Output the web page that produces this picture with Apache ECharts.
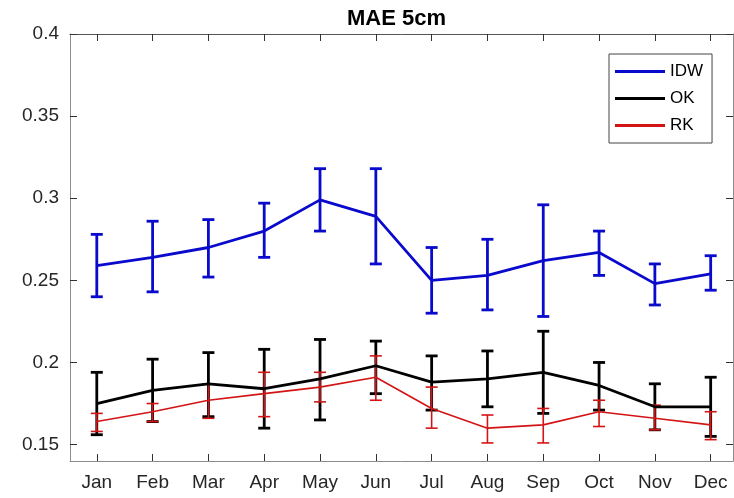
<!DOCTYPE html>
<html>
<head>
<meta charset="utf-8">
<script src="https://cdn.jsdelivr.net/npm/echarts@6/dist/echarts.min.js"></script>
<style>html,body{margin:0;padding:0;background:#fff;}#c{width:734px;height:498px;}</style>
</head>
<body>
<div id="c"></div>
<script>
const months = ['Jan','Feb','Mar','Apr','May','Jun','Jul','Aug','Sep','Oct','Nov','Dec'];
const yTicks = [0.15, 0.2, 0.25, 0.3, 0.35, 0.4];
const idwMean = [0.259,0.264,0.270,0.280,0.299,0.289,0.250,0.253,0.262,0.267,0.248,0.254];
const idwLow  = [0.240,0.243,0.252,0.264,0.280,0.260,0.230,0.232,0.228,0.253,0.235,0.244];
const idwHigh = [0.278,0.286,0.287,0.297,0.318,0.318,0.270,0.275,0.296,0.280,0.260,0.265];
const okMean  = [0.175,0.183,0.187,0.184,0.190,0.198,0.188,0.190,0.194,0.186,0.173,0.173];
const okLow   = [0.156,0.164,0.167,0.160,0.165,0.181,0.171,0.173,0.169,0.171,0.159,0.155];
const okHigh  = [0.194,0.202,0.206,0.208,0.214,0.213,0.204,0.207,0.219,0.200,0.187,0.191];
const rkMean  = [0.164,0.170,0.177,0.181,0.185,0.191,0.172,0.160,0.162,0.170,0.166,0.162];
const rkLow   = [0.158,0.164,0.166,0.167,0.176,0.177,0.160,0.151,0.151,0.161,0.159,0.153];
const rkHigh  = [0.169,0.175,0.187,0.194,0.194,0.204,0.185,0.168,0.172,0.177,0.174,0.170];

const xPos = months.map((m, i) => i + 1);
const FONT = 'Liberation Sans, Arial, sans-serif';
const colors = { IDW: '#0a0acc', OK: '#000000', RK: '#d41414' };
const widths = { IDW: 2.8, OK: 2.8, RK: 1.6 };

function lineSeries(name, mean) {
  return {
    name: name, type: 'line', xAxisIndex: 0, yAxisIndex: 0,
    data: mean.map((v, i) => [xPos[i], v]),
    symbol: 'none', z: 3,
    lineStyle: { color: colors[name], width: widths[name] },
    itemStyle: { color: colors[name] }
  };
}
function errSeries(name, low, high) {
  return {
    name: name + ' err', type: 'custom', xAxisIndex: 0, yAxisIndex: 0, z: 3,
    data: low.map((v, i) => [xPos[i], v, high[i]]),
    encode: { x: 0, y: [1, 2] },
    renderItem: function (params, api) {
      const x = api.value(0);
      const lo = api.coord([x, api.value(1)]);
      const hi = api.coord([x, api.value(2)]);
      const hw = 6;
      const st = { stroke: colors[name], lineWidth: widths[name] };
      return {
        type: 'group',
        children: [
          { type: 'line', shape: { x1: lo[0], y1: lo[1], x2: hi[0], y2: hi[1] }, style: st },
          { type: 'line', shape: { x1: lo[0] - hw, y1: lo[1], x2: lo[0] + hw, y2: lo[1] }, style: st },
          { type: 'line', shape: { x1: hi[0] - hw, y1: hi[1], x2: hi[0] + hw, y2: hi[1] }, style: st }
        ]
      };
    }
  };
}

const chart = echarts.init(document.getElementById('c'), null, { renderer: 'canvas' });
const axisLineStyle = { color: '#8c8c8c', width: 1 };
const tickStyle = { color: '#333', width: 1 };
chart.setOption({
  animation: false,
  backgroundColor: '#fff',
  title: {
    text: 'MAE 5cm', left: 347, top: 8, padding: 0,
    textStyle: { fontFamily: FONT, fontSize: 22, fontWeight: 'bold', color: '#000' }
  },
  grid: { left: 70, right: 1, top: 34, bottom: 37, containLabel: false },
  legend: {
    orient: 'vertical', left: 609, top: 54,
    padding: [9, 9, 9, 6], itemGap: 10, itemWidth: 50, itemHeight: 3,
    backgroundColor: '#fff', borderColor: '#444', borderWidth: 1, borderRadius: 0,
    textStyle: { fontFamily: FONT, fontSize: 17, color: '#000' },
    data: [
      { name: 'IDW', icon: 'rect', itemStyle: { color: colors.IDW } },
      { name: 'OK', icon: 'rect', itemStyle: { color: colors.OK } },
      { name: 'RK', icon: 'rect', itemStyle: { color: colors.RK } }
    ]
  },
  xAxis: [
    {
      type: 'value', position: 'bottom', min: 0.52, max: 12.4,
      axisLine: { show: true, lineStyle: axisLineStyle },
      axisTick: { show: true, inside: true, length: 7, customValues: xPos, lineStyle: tickStyle },
      axisLabel: {
        customValues: xPos, margin: 12,
        formatter: v => months[Math.round(v) - 1] || '',
        fontFamily: FONT, fontSize: 19, color: '#262626'
      },
      splitLine: { show: false }
    },
    {
      type: 'value', position: 'top', min: 0.52, max: 12.4,
      axisLine: { show: true, lineStyle: { color: '#555', width: 1 } },
      axisTick: { show: true, inside: true, length: 7, customValues: xPos, lineStyle: tickStyle },
      axisLabel: { show: false },
      splitLine: { show: false }
    }
  ],
  yAxis: [
    {
      type: 'value', position: 'left', min: 0.14, max: 0.4,
      axisLine: { show: true, lineStyle: axisLineStyle },
      axisTick: { show: true, inside: true, length: 7, customValues: yTicks, lineStyle: tickStyle },
      axisLabel: {
        customValues: yTicks, margin: 11,
        formatter: v => String(Math.round(v * 100) / 100),
        fontFamily: FONT, fontSize: 19, color: '#262626'
      },
      splitLine: { show: false }
    },
    {
      type: 'value', position: 'right', min: 0.14, max: 0.4,
      axisLine: { show: true, lineStyle: axisLineStyle },
      axisTick: { show: true, inside: true, length: 7, customValues: yTicks, lineStyle: tickStyle },
      axisLabel: { show: false },
      splitLine: { show: false }
    }
  ],
  series: [
    lineSeries('IDW', idwMean), errSeries('IDW', idwLow, idwHigh),
    lineSeries('OK', okMean), errSeries('OK', okLow, okHigh),
    lineSeries('RK', rkMean), errSeries('RK', rkLow, rkHigh)
  ]
});
</script>
</body>
</html>
